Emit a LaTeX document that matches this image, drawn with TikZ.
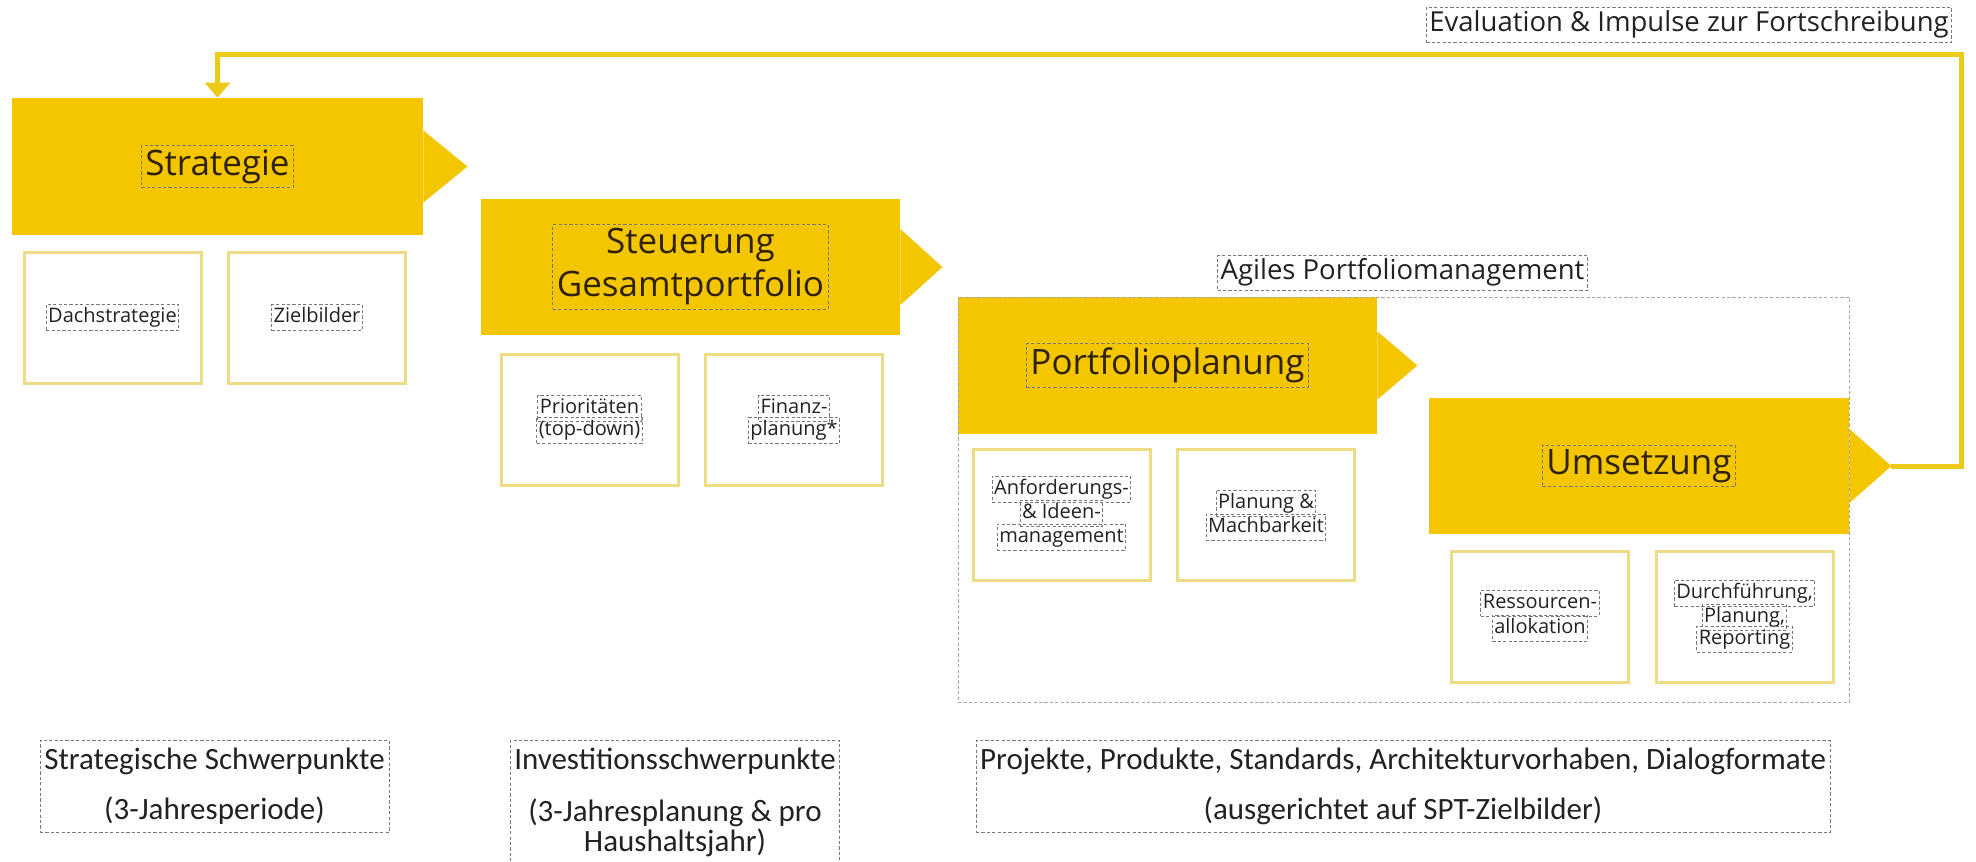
\documentclass[tikz,border=0pt]{standalone}
\usepackage{fontspec}
\setmainfont{Open Sans}
\newfontfamily\notefont{Carlito}
\usetikzlibrary{arrows.meta}

\definecolor{phaseyellow}{RGB}{243,198,0}
\definecolor{loopyellow}{RGB}{236,202,24}
\definecolor{boxedge}{RGB}{238,220,132}
\definecolor{framegray}{RGB}{120,120,120}
\definecolor{containergray}{RGB}{165,165,165}
\definecolor{titletext}{RGB}{48,34,6}
\definecolor{labeltext}{RGB}{34,34,34}

\tikzset{
  phase/.style={fill=phaseyellow, draw=none, inner sep=0pt, minimum height=68.5pt},
  dashframe/.style={draw=framegray, line width=0.5pt, dash pattern=on 1.6pt off 1.1pt},
  title/.style={dashframe, font=\fontsize{17.5}{21.5}\selectfont, text=titletext,
    inner xsep=2pt, inner ysep=2pt, align=center},
  subbox/.style={draw=boxedge, line width=1.5pt, fill=white, inner sep=0pt,
    minimum width=88.5pt, minimum height=65.5pt},
  lbl/.style={dashframe, font=\fontsize{10}{11.5}\selectfont, text=labeltext,
    inner xsep=1pt, inner ysep=1.5pt, text height=7.6pt, text depth=2.4pt},
  headlbl/.style={dashframe, font=\fontsize{13.75}{16}\selectfont, text=labeltext,
    inner xsep=1.5pt, inner ysep=2pt, text height=10.2pt, text depth=3.3pt},
  note/.style={dashframe, font=\notefont\fontsize{15.5}{15}\selectfont, text=labeltext,
    align=center, inner xsep=2pt, inner ysep=3.5pt, anchor=north},
  container/.style={draw=containergray, line width=0.5pt, dash pattern=on 1.6pt off 1.1pt,
    inner sep=0pt, minimum width=445.5pt, minimum height=202.5pt},
  feedback/.style={draw=loopyellow, line width=2.5pt,
    -{Triangle[width=12.5pt,length=7.5pt]}}
}

\begin{document}
\begin{tikzpicture}[x=0.5pt, y=-0.5pt]
  \useasboundingbox (0,0) rectangle (1976,862);
  \clip (0,0) rectangle (1976,862);
  \fill[white] (0,0) rectangle (1976,862);

  % phase bodies with their arrow heads
  \node[phase, minimum width=205.5pt] (strat) at (217.5,166.5) {};
  \fill[phaseyellow] ([yshift=18pt]strat.east) -- ([xshift=22pt]strat.east) coordinate (strat-tip)
    -- ([yshift=-18pt]strat.east) -- cycle;
  \node[phase, minimum width=209.5pt, minimum height=68pt] (steu) at (690.5,267) {};
  \fill[phaseyellow] ([yshift=19pt]steu.east) -- ([xshift=21pt]steu.east) coordinate (steu-tip)
    -- ([yshift=-19pt]steu.east) -- cycle;
  \node[phase, minimum width=209.5pt] (port) at (1167.5,365.5) {};
  \fill[phaseyellow] ([yshift=17pt]port.east) -- ([xshift=20pt]port.east) coordinate (port-tip)
    -- ([yshift=-17pt]port.east) -- cycle;
  \node[phase, minimum width=210pt, minimum height=68pt] (ums) at (1639,466) {};
  \fill[phaseyellow] ([yshift=18.5pt]ums.east) -- ([xshift=21pt]ums.east) coordinate (ums-tip)
    -- ([yshift=-18.5pt]ums.east) -- cycle;

  % phase titles
  \node[title] (strat-title) at (strat.center) {Strategie};
  \node[title] (steu-title) at (steu.center) {Steuerung\\Gesamtportfolio};
  \node[title] (port-title) at (port.center) {Portfolioplanung};
  \node[title] (ums-title) at (ums.center) {Umsetzung};

  % agile portfolio management frame
  \node[container] (apm) at (1403.5,499.5) {};
  \node[headlbl] (apm-title) at (1402.5,273) {Agiles Portfoliomanagement};

  % sub-tasks: Strategie
  \node[subbox] (dach) at (112.5,317.5) {};
  \node[lbl] (dach-l1) at (dach.center) {Dachstrategie};
  \node[subbox] (ziel) at (317,317.5) {};
  \node[lbl] (ziel-l1) at (ziel.center) {Zielbilder};

  % sub-tasks: Steuerung Gesamtportfolio
  \node[subbox] (prio) at (589.5,419.5) {};
  \node[lbl] (prio-l1) at ([yshift=5.6pt]prio.center) {Prioritäten};
  \node[lbl] (prio-l2) at ([yshift=-5.6pt]prio.center) {(top-down)};
  \node[subbox] (fin) at (794,419.5) {};
  \node[lbl] (fin-l1) at ([yshift=5.6pt]fin.center) {Finanz-};
  \node[lbl] (fin-l2) at ([yshift=-5.6pt]fin.center) {planung*};

  % sub-tasks: Portfolioplanung
  \node[subbox] (anf) at (1061.5,515) {};
  \node[lbl] (anf-l1) at ([yshift=13pt]anf.center) {Anforderungs-};
  \node[lbl] (anf-l2) at ([yshift=1pt]anf.center) {\& Ideen-};
  \node[lbl] (anf-l3) at ([yshift=-11pt]anf.center) {management};
  \node[subbox] (mach) at (1266,515) {};
  \node[lbl] (mach-l1) at ([yshift=6pt]mach.center) {Planung \&};
  \node[lbl] (mach-l2) at ([yshift=-6pt]mach.center) {Machbarkeit};

  % sub-tasks: Umsetzung
  \node[subbox] (res) at (1540,617) {};
  \node[lbl] (res-l1) at ([yshift=7pt]res.center) {Ressourcen-};
  \node[lbl] (res-l2) at ([yshift=-5.5pt]res.center) {allokation};
  \node[subbox] (durch) at (1744.5,617) {};
  \node[lbl] (durch-l1) at ([yshift=12pt]durch.center) {Durchführung,};
  \node[lbl] (durch-l2) at ([yshift=0pt]durch.center) {Planung,};
  \node[lbl] (durch-l3) at ([yshift=-11pt]durch.center) {Reporting};

  % feedback loop from Umsetzung back to Strategie
  \node[headlbl] (eval) at (1689,25) {Evaluation \& Impulse zur Fortschreibung};
  \coordinate (fbcorner) at (1961,54);
  \draw[feedback] (ums-tip) -| (fbcorner) -| (strat.north);

  % notes below the phases
  \node[note, minimum width=174.5pt, minimum height=46pt] (note-strat) at (214.5,740)
    {Strategische Schwerpunkte\\[10pt](3-Jahresperiode)};
  \node[note, minimum width=162pt, text depth=20pt] (note-inv) at (675,740)
    {Investitionsschwerpunkte\\[11pt](3-Jahresplanung \& pro\\Haushaltsjahr)};
  \node[note, minimum width=427pt, minimum height=46pt] (note-proj) at (1403,740)
    {Projekte, Produkte, Standards, Architekturvorhaben, Dialogformate\\[10pt](ausgerichtet auf SPT-Zielbilder)};
\end{tikzpicture}
\end{document}
